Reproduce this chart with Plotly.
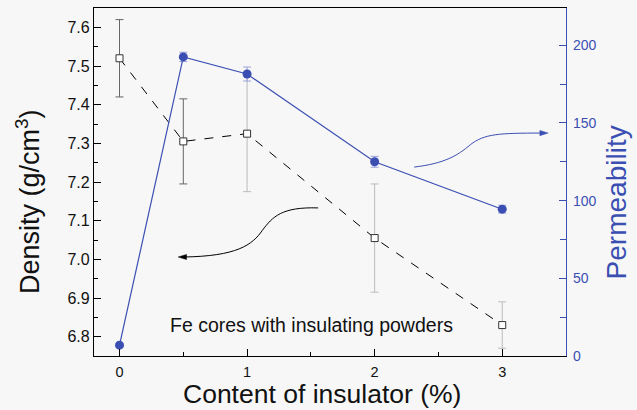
import plotly.graph_objects as go

# Data
content = [0, 0.5, 1, 2, 3]
density = [7.52, 7.305, 7.325, 7.055, 6.83]
density_err = [0.10, 0.11, 0.15, 0.14, 0.06]
perm = [7, 192.5, 181.5, 125, 94.5]
perm_err = [1, 3, 4.5, 3.5, 2.5]

BLUE = "#3B4FB3"
FONT = "Liberation Sans, Arial, sans-serif"

fig = go.Figure()

# density error bars: first two darker, the rest lighter
dark_idx = [0, 1]
light_idx = [2, 3, 4]
fig.add_trace(go.Scatter(
    x=[content[i] for i in dark_idx], y=[density[i] for i in dark_idx],
    mode="markers", marker=dict(color="rgba(0,0,0,0)", size=1),
    error_y=dict(type="data", array=[density_err[i] for i in dark_idx],
                 color="#666666", thickness=1, width=4),
    showlegend=False, hoverinfo="skip"))
fig.add_trace(go.Scatter(
    x=[content[i] for i in light_idx], y=[density[i] for i in light_idx],
    mode="markers", marker=dict(color="rgba(0,0,0,0)", size=1),
    error_y=dict(type="data", array=[density_err[i] for i in light_idx],
                 color="#bbbbbb", thickness=1, width=4),
    showlegend=False, hoverinfo="skip"))

fig.add_trace(go.Scatter(
    x=content, y=density, mode="lines+markers",
    line=dict(color="black", width=1, dash="dash"),
    marker=dict(symbol="square", size=7, color="white",
                line=dict(color="#333333", width=1)),
    showlegend=False))

fig.add_trace(go.Scatter(
    x=content, y=perm, yaxis="y2", mode="lines+markers",
    line=dict(color=BLUE, width=1.2),
    marker=dict(symbol="circle", size=9, color=BLUE),
    error_y=dict(type="data", array=perm_err, color="#9aa3dc", thickness=1, width=4),
    showlegend=False))

# Curved arrows
shapes = [
    dict(type="path", xref="x", yref="y",
         path="M 1.557,7.133 C 1.27,7.136 1.2,7.11 1.12,7.075 C 1.04,7.037 0.92,7.008 0.50,7.006",
         line=dict(color="black", width=1)),
    dict(type="path", xref="x", yref="y",
         path="M 0.46,7.006 L 0.525,7.0125 L 0.525,6.9995 Z",
         line=dict(color="black", width=0.5), fillcolor="black"),
    dict(type="path", xref="x", yref="y2",
         path="M 2.31,121.6 C 2.55,124 2.65,129 2.75,136 C 2.86,143 2.97,143.5 3.32,143.5",
         line=dict(color=BLUE, width=1)),
    dict(type="path", xref="x", yref="y2",
         path="M 3.36,143.5 L 3.295,145.2 L 3.295,141.8 Z",
         line=dict(color=BLUE, width=0.5), fillcolor=BLUE),
]

annotations = [
    dict(text="Fe cores with insulating powders", x=1.507, y=6.831, xref="x", yref="y",
         xanchor="center", yanchor="middle",
         showarrow=False, font=dict(family=FONT, size=19.5, color="#111111")),
    dict(text="Density (g/cm<sup>3</sup>)", x=-0.14, y=0.445, xref="paper", yref="paper",
         xanchor="center", yanchor="middle",
         textangle=-90, showarrow=False, font=dict(family=FONT, size=27, color="#111111")),
    dict(text="Permeability", x=1.107, y=0.44, xref="paper", yref="paper",
         xanchor="center", yanchor="middle",
         textangle=-90, showarrow=False, font=dict(family=FONT, size=28, color=BLUE)),
    dict(text="Content of insulator (%)", x=0.482, y=-0.108, xref="paper", yref="paper",
         xanchor="center", yanchor="middle",
         showarrow=False, font=dict(family=FONT, size=26.5, color="#111111")),
]

fig.update_layout(
    width=637, height=410,
    margin=dict(l=94, r=71, t=8, b=54),
    paper_bgcolor="#f7f7f7", plot_bgcolor="#f7f7f7",
    font=dict(family=FONT),
    shapes=shapes, annotations=annotations,
    xaxis=dict(range=[-0.2, 3.5], tick0=0, dtick=1, ticks="inside", ticklen=7,
               tickcolor="black", showline=True, linecolor="black", linewidth=1.3,
               mirror=True, showgrid=False, zeroline=False, ticklabelstandoff=2,
               minor=dict(ticks="inside", dtick=0.5, ticklen=4, tickcolor="black"),
               tickfont=dict(size=14.5, color="#111111")),
    yaxis=dict(range=[6.75, 7.65], tick0=6.8, dtick=0.1, tickformat=".1f",
               ticks="inside", ticklen=7, tickcolor="black", showline=True,
               linecolor="black", linewidth=1.3, showgrid=False, zeroline=False,
               minor=dict(ticks="inside", dtick=0.05, ticklen=4, tickcolor="black"),
               tickfont=dict(size=16, color="#111111")),
    yaxis2=dict(range=[0, 224], overlaying="y", side="right", tick0=0, dtick=50,
                ticks="inside", ticklen=7, tickcolor=BLUE, showline=True,
                linecolor=BLUE, linewidth=1.3, showgrid=False, zeroline=False,
                ticklabelstandoff=3,
                minor=dict(ticks="inside", dtick=25, ticklen=6, tickcolor=BLUE),
                tickfont=dict(size=14, color=BLUE)),
)

fig.write_html("out.html")
